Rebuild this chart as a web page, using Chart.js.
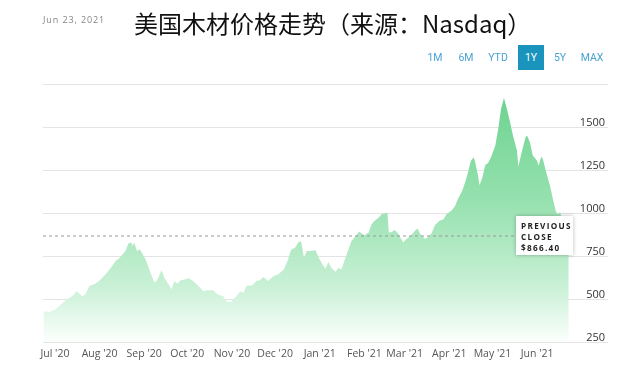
<!DOCTYPE html>
<html>
<head>
<meta charset="utf-8">
<script src="https://cdn.jsdelivr.net/npm/chart.js@4"></script>
<style>
  html, body { margin: 0; padding: 0; background: #fff; }
  body { width: 640px; height: 381px; position: relative; overflow: hidden; font-family: "Open Sans", "Noto Sans", sans-serif; }
  #c { position: absolute; left: 0; top: 0; }
  .date { position: absolute; left: 43px; top: 13px; font-size: 9px; letter-spacing: 0.9px; color: #858585; }
  .title { position: absolute; left: 134px; top: 5px; font-family: "Noto Sans CJK SC", sans-serif; font-size: 24px; color: #111; white-space: nowrap; }
  .btn { position: absolute; top: 45px; height: 25px; line-height: 25px; font-family: Roboto, sans-serif; font-size: 10.5px; color: #4aa2d3; transform: translateX(-50%); text-align: center; }
  .btn.active { background: #1a93bd; color: #fff; width: 26px; }
  .prev { position: absolute; left: 516px; top: 216px; width: 57px; height: 39px; background: #fff; box-shadow: 0 0 4px rgba(0,0,0,0.28); font-size: 8.2px; font-weight: bold; letter-spacing: 1.3px; color: #222; line-height: 11px; padding: 4px 0 0 5px; box-sizing: border-box; white-space: nowrap; }
</style>
</head>
<body>
<canvas id="c" width="640" height="381"></canvas>
<div class="date">Jun 23, 2021</div>
<div class="title">美国木材价格走势（来源：Nasdaq）</div>
<div class="btn" style="left:435px">1M</div>
<div class="btn" style="left:466px">6M</div>
<div class="btn" style="left:498px">YTD</div>
<div class="btn active" style="left:531px">1Y</div>
<div class="btn" style="left:560px">5Y</div>
<div class="btn" style="left:592px">MAX</div>
<div class="prev">PREVIOUS<br>CLOSE<br>$866.40</div>
<script>
const dates = ["2020-06-23","2020-06-27","2020-07-01","2020-07-04","2020-07-09","2020-07-13","2020-07-16","2020-07-20","2020-07-22","2020-07-25",
"2020-07-29","2020-08-01","2020-08-05","2020-08-08","2020-08-12","2020-08-15","2020-08-19","2020-08-21","2020-08-23","2020-08-24",
"2020-08-25","2020-08-27","2020-08-29","2020-09-02","2020-09-05","2020-09-08","2020-09-10","2020-09-13","2020-09-15","2020-09-18",
"2020-09-20","2020-09-22","2020-09-24","2020-09-26","2020-09-29","2020-10-02","2020-10-05","2020-10-10","2020-10-12","2020-10-15",
"2020-10-19","2020-10-22","2020-10-26","2020-10-28","2020-10-31","2020-11-03","2020-11-07","2020-11-09","2020-11-11","2020-11-15",
"2020-11-18","2020-11-20","2020-11-23","2020-11-26","2020-11-30","2020-12-03","2020-12-07","2020-12-10","2020-12-12","2020-12-15",
"2020-12-17","2020-12-19","2020-12-21","2020-12-23","2020-12-26","2020-12-29","2020-12-30","2021-01-01","2021-01-03","2021-01-05",
"2021-01-07","2021-01-09","2021-01-12","2021-01-14","2021-01-16","2021-01-18","2021-01-21","2021-01-23","2021-01-27","2021-01-28",
"2021-01-30","2021-02-01","2021-02-04","2021-02-06","2021-02-08","2021-02-11","2021-02-13","2021-02-16","2021-02-17","2021-02-18",
"2021-02-20","2021-02-22","2021-02-24","2021-02-26","2021-02-28","2021-03-02","2021-03-05","2021-03-08","2021-03-10","2021-03-12",
"2021-03-15","2021-03-17","2021-03-20","2021-03-22","2021-03-25","2021-03-28","2021-03-30","2021-04-03","2021-04-05","2021-04-07",
"2021-04-10","2021-04-12","2021-04-14","2021-04-16","2021-04-18","2021-04-19","2021-04-21","2021-04-22","2021-04-24","2021-04-26",
"2021-04-28","2021-04-30","2021-05-03","2021-05-05","2021-05-07","2021-05-09","2021-05-11","2021-05-13","2021-05-15","2021-05-18",
"2021-05-19","2021-05-21","2021-05-24","2021-05-25","2021-05-27","2021-05-29","2021-06-01","2021-06-02","2021-06-04","2021-06-05",
"2021-06-08","2021-06-10","2021-06-12","2021-06-14","2021-06-15","2021-06-17","2021-06-20","2021-06-23"];

const prices = [429,425,438,458,497,516,545,516,526,575,
589,608,643,672,720,740,779,822,828,808,
828,779,789,730,662,596,608,667,624,584,
555,604,589,608,614,620,604,565,545,551,
551,526,516,487,481,507,545,536,577,579,
604,608,628,604,633,643,672,730,785,799,
828,836,742,779,779,785,765,730,701,676,
715,682,659,682,672,720,789,837,876,892,
882,870,886,935,954,974,993,999,1003,886,
890,901,886,857,828,847,866,896,910,876,
851,857,886,929,954,964,993,1018,1041,1081,
1129,1178,1236,1304,1324,1295,1217,1162,1207,1279,
1291,1324,1392,1489,1606,1668,1606,1538,1460,1363,
1271,1343,1441,1450,1412,1334,1304,1275,1328,1314,
1217,1158,1081,1012,993,1003,930,866.4];

const previousClose = 866.40;

const tickDates = ["2020-07-01","2020-08-01","2020-09-01","2020-10-01","2020-11-01","2020-12-01","2021-01-01","2021-02-01","2021-03-01","2021-04-01","2021-05-01","2021-06-01"];
const tickLabels = ["Jul '20","Aug '20","Sep '20","Oct '20","Nov '20","Dec '20","Jan '21","Feb '21","Mar '21","Apr '21","May '21","Jun '21"];
const yTickLabels = [250, 500, 750, 1000, 1250, 1500];

const EPOCH = Date.UTC(2020, 6, 1);
function day(s) {
  const p = s.split('-').map(Number);
  return (Date.UTC(p[0], p[1] - 1, p[2]) - EPOCH) / 86400000;
}

const X_MIN = -8.3, X_MAX = 382.2;
const areaData = dates.map((d, i) => ({ x: day(d), y: prices[i] }));
const closeLine = [{ x: X_MIN, y: previousClose }, { x: day(dates[dates.length - 1]), y: previousClose }];

function gradient(context) {
  const chart = context.chart;
  const { ctx, chartArea } = chart;
  if (!chartArea) return 'rgba(120,214,150,0.8)';
  const g = ctx.createLinearGradient(0, chartArea.top, 0, chartArea.bottom);
  g.addColorStop(0, 'rgb(104,209,140)');
  g.addColorStop(0.45, 'rgb(150,225,175)');
  g.addColorStop(0.78, 'rgb(200,240,213)');
  g.addColorStop(1, 'rgb(252,255,253)');
  return g;
}

new Chart(document.getElementById('c'), {
  type: 'line',
  data: {
    datasets: [
      {
        data: closeLine,
        borderColor: '#9a9a9a',
        borderWidth: 1,
        borderDash: [3, 3],
        pointRadius: 0,
        fill: false
      },
      {
        data: areaData,
        borderWidth: 0,
        borderColor: 'rgba(0,0,0,0)',
        backgroundColor: gradient,
        pointRadius: 0,
        fill: 'start',
        tension: 0
      }
    ]
  },
  options: {
    responsive: false,
    animation: false,
    events: [],
    layout: { padding: { left: 43, right: 32, top: 84, bottom: 19 } },
    plugins: { legend: { display: false }, tooltip: { enabled: false } },
    scales: {
      x: {
        type: 'linear',
        min: X_MIN,
        max: X_MAX,
        afterBuildTicks: (s) => { s.ticks = tickDates.map(d => ({ value: day(d) })); },
        afterFit: (s) => { s.height = 20; },
        grid: { display: false, drawTicks: false },
        border: { display: false },
        ticks: {
          autoSkip: false,
          maxRotation: 0,
          padding: 6,
          color: '#555',
          font: { family: 'Open Sans', size: 10.5 },
          callback: (v, i) => tickLabels[i]
        }
      },
      y: {
        position: 'right',
        min: 250,
        max: 1750,
        afterFit: (s) => { s.width = 3; },
        grid: { color: '#e4e4e4', lineWidth: 1, drawTicks: true, tickLength: 3 },
        border: { display: false },
        ticks: {
          stepSize: 250,
          mirror: true,
          padding: 0,
          labelOffset: -4,
          color: '#333',
          font: { family: 'Open Sans', size: 11 },
          callback: (v) => yTickLabels.includes(v) ? String(v) : ''
        }
      }
    }
  }
});
</script>
</body>
</html>
